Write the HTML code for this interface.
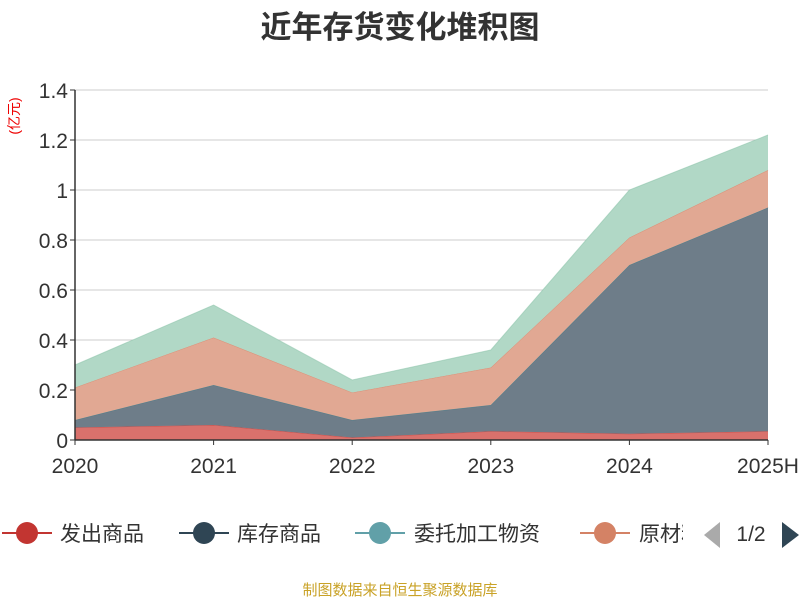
<!DOCTYPE html>
<html><head><meta charset="utf-8">
<style>
body{margin:0;background:#fff;font-family:"Liberation Sans","Noto Sans CJK SC",sans-serif;}
svg text{font-family:"Liberation Sans","Noto Sans CJK SC",sans-serif;}
</style></head>
<body>
<svg width="800" height="600" viewBox="0 0 800 600">
<text x="400" y="38" text-anchor="middle" font-size="31" font-weight="bold" fill="#333">近年存货变化堆积图</text>
<text transform="translate(19,116) rotate(-90)" text-anchor="middle" font-size="14" fill="#e00">(亿元)</text>
<g id="grid"></g>
<g id="areas"></g>
<g id="axes"></g>
<g>
 <g><line x1="2" y1="533" x2="52" y2="533" stroke="#c23531" stroke-width="2"/><circle cx="27" cy="533" r="11" fill="#c23531"/><text x="60" y="541" font-size="21" fill="#333">发出商品</text></g>
 <g><line x1="179" y1="533" x2="229" y2="533" stroke="#2f4554" stroke-width="2"/><circle cx="204" cy="533" r="11" fill="#2f4554"/><text x="237" y="541" font-size="21" fill="#333">库存商品</text></g>
 <g><line x1="355" y1="533" x2="405" y2="533" stroke="#61a0a8" stroke-width="2"/><circle cx="380" cy="533" r="11" fill="#61a0a8"/><text x="414" y="541" font-size="21" fill="#333">委托加工物资</text></g>
 <g><line x1="580" y1="533" x2="630" y2="533" stroke="#d48265" stroke-width="2"/><circle cx="605" cy="533" r="11" fill="#d48265"/><svg x="639" y="510" width="44" height="40" overflow="hidden"><text x="0" y="31" font-size="21" fill="#333">原材料</text></svg></g>
 <polygon points="720,522 720,548 704,535" fill="#aaa"/>
 <text x="751" y="541" text-anchor="middle" font-size="21" fill="#333">1/2</text>
 <polygon points="782,522 782,548 799,535" fill="#2f4554"/>
</g>
<text x="400" y="595" text-anchor="middle" font-size="15" fill="#c9a227">制图数据来自恒生聚源数据库</text>
</svg>
<script>
const categories=["2020","2021","2022","2023","2024","2025H"];
const fachu=[0.05,0.06,0.01,0.035,0.025,0.035];
const kucun=[0.03,0.16,0.07,0.105,0.675,0.895];
const weituo=[0,0,0,0,0,0];
const yuancailiao=[0.13,0.19,0.11,0.15,0.11,0.15];
const other=[0.09,0.13,0.05,0.07,0.19,0.14];
const yTicks=[0,0.2,0.4,0.6,0.8,1,1.2,1.4];
const yTickLabels=["0","0.2","0.4","0.6","0.8","1","1.2","1.4"];
const NS="http://www.w3.org/2000/svg";
const x0=75,x1=768,yBase=440,yTop=90,yMax=1.4;
function xs(i){return x0+i*(x1-x0)/(categories.length-1);}
function ys(v){return yBase-v/yMax*(yBase-yTop);}
function mk(tag,attrs,parent){const e=document.createElementNS(NS,tag);for(const k in attrs)e.setAttribute(k,attrs[k]);parent.appendChild(e);return e;}
const grid=document.getElementById('grid'),areas=document.getElementById('areas'),axes=document.getElementById('axes');
yTicks.forEach((t,i)=>{
 if(t>0){const l=mk('line',{x1:x0,x2:x1,y1:ys(t),y2:ys(t),stroke:'#ccc','stroke-width':1},grid);
 
 }
 const tx=mk('text',{x:x0-7,y:ys(t)+8,'text-anchor':'end','font-size':21,fill:'#333'},axes);
 tx.textContent=yTickLabels[i];
 
 
});
const series=[[fachu,'#d9716c','#c23531','fachu'],[kucun,'#6e7d89','#2f4554','kucun'],[weituo,'#a6cbd0','#61a0a8','weituo'],[yuancailiao,'#e1a893','#d48265','yuancailiao'],[other,'#b1d8c6','#91c7ae','other']];
let base=categories.map(()=>0);
series.forEach(([vals,fill,stroke,name])=>{
 const top=base.map((b,i)=>b+vals[i]);
 let pts=top.map((v,i)=>xs(i)+','+ys(v));
 let bpts=base.map((v,i)=>xs(i)+','+ys(v)).reverse();
 const p=mk('polygon',{points:pts.concat(bpts).join(' '),fill:fill},areas);
 
 
 const l=mk('polyline',{points:pts.join(' '),fill:'none',stroke:stroke,'stroke-width':1,'stroke-opacity':0.6},areas);
 
 
 base=top;
});
const ax=mk('line',{x1:x0,x2:x1,y1:yBase,y2:yBase,stroke:'#333','stroke-width':1.5},axes);


const ay=mk('line',{x1:x0,x2:x0,y1:yTop,y2:yBase,stroke:'#333','stroke-width':1.5},axes);


yTicks.forEach(t=>{mk('line',{x1:x0-5,x2:x0,y1:ys(t),y2:ys(t),stroke:'#333'},axes);});
categories.forEach((c,i)=>{
 mk('line',{x1:xs(i),x2:xs(i),y1:yBase,y2:yBase+5,stroke:'#333'},axes);
 const t=mk('text',{x:xs(i),y:473,'text-anchor':'middle','font-size':21,fill:'#333'},axes);
 t.textContent=c;
 
 
});
</script>
</body></html>
